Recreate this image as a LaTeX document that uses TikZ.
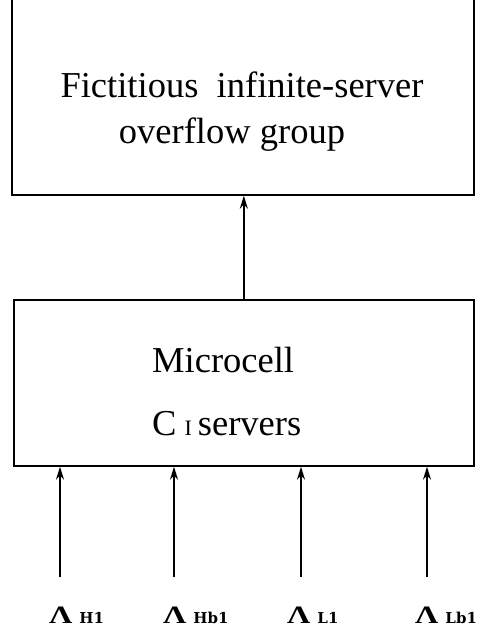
\documentclass[tikz,border=0pt]{standalone}
\usepackage{fontspec}
\usepackage{graphicx}
\setmainfont{Liberation Serif}
\newfontfamily\ratefont{DejaVu Serif}
\usetikzlibrary{arrows.meta}

% Greek capital with a small bold index beside it
\newcommand{\ratelabel}[1]{\scalebox{1.3}[1]{Λ}\hspace{7pt}{\ratefont\bfseries\fontsize{15}{15}\selectfont #1}}

\begin{document}
\begin{tikzpicture}[x=1pt,y=-1pt,
  box/.style={draw,line width=1.7pt,inner sep=0pt},
  flow/.style={line width=1.7pt,-{Stealth[length=13pt,width=8pt]}},
  boxtext/.style={font=\fontsize{36.5}{46}\selectfont,inner sep=0pt},
  rate/.style={font=\bfseries\fontsize{25}{25}\selectfont,inner sep=0pt,anchor=base west}]
\useasboundingbox (0,0) rectangle (485,633);
\clip (0,0) rectangle (485,633);

% upper box (its top edge runs off the page)
\node[box,minimum width=462pt,minimum height=214pt,anchor=north west] (ov) at (11,-20) {};
\node[boxtext,anchor=base] (ovl1) at (242,97) {Fictitious\ \ infinite-server};
\node[boxtext,anchor=base] (ovl2) at (232,143) {overflow group};

% lower box
\node[box,minimum width=460pt,minimum height=166pt,anchor=north west] (mc) at (13,299) {};
\node[boxtext,anchor=base west] (mcl1) at (152,372) {Microcell};
\node[boxtext,anchor=base west] (mcl2) at (152,435) {C\hspace{8pt}{\fontsize{22}{22}\selectfont I}\hspace{6pt}servers};

% overflow traffic
\draw[flow] (mc.north) -- (mc.north |- ov.south);

% offered traffic streams
\coordinate (t1) at (60,577);
\coordinate (t2) at (174,577);
\coordinate (t3) at (301,577);
\coordinate (t4) at (427,577);
\foreach \t in {t1,t2,t3,t4}
  \draw[flow] (\t) -- (\t |- mc.south);

\node[rate] (lH1)  at (49,623)  {\ratelabel{H1}};
\node[rate] (lHb1) at (163,623) {\ratelabel{Hb1}};
\node[rate] (lL1)  at (287,623) {\ratelabel{L1}};
\node[rate] (lLb1) at (415,623) {\ratelabel{Lb1}};
\end{tikzpicture}
\end{document}
